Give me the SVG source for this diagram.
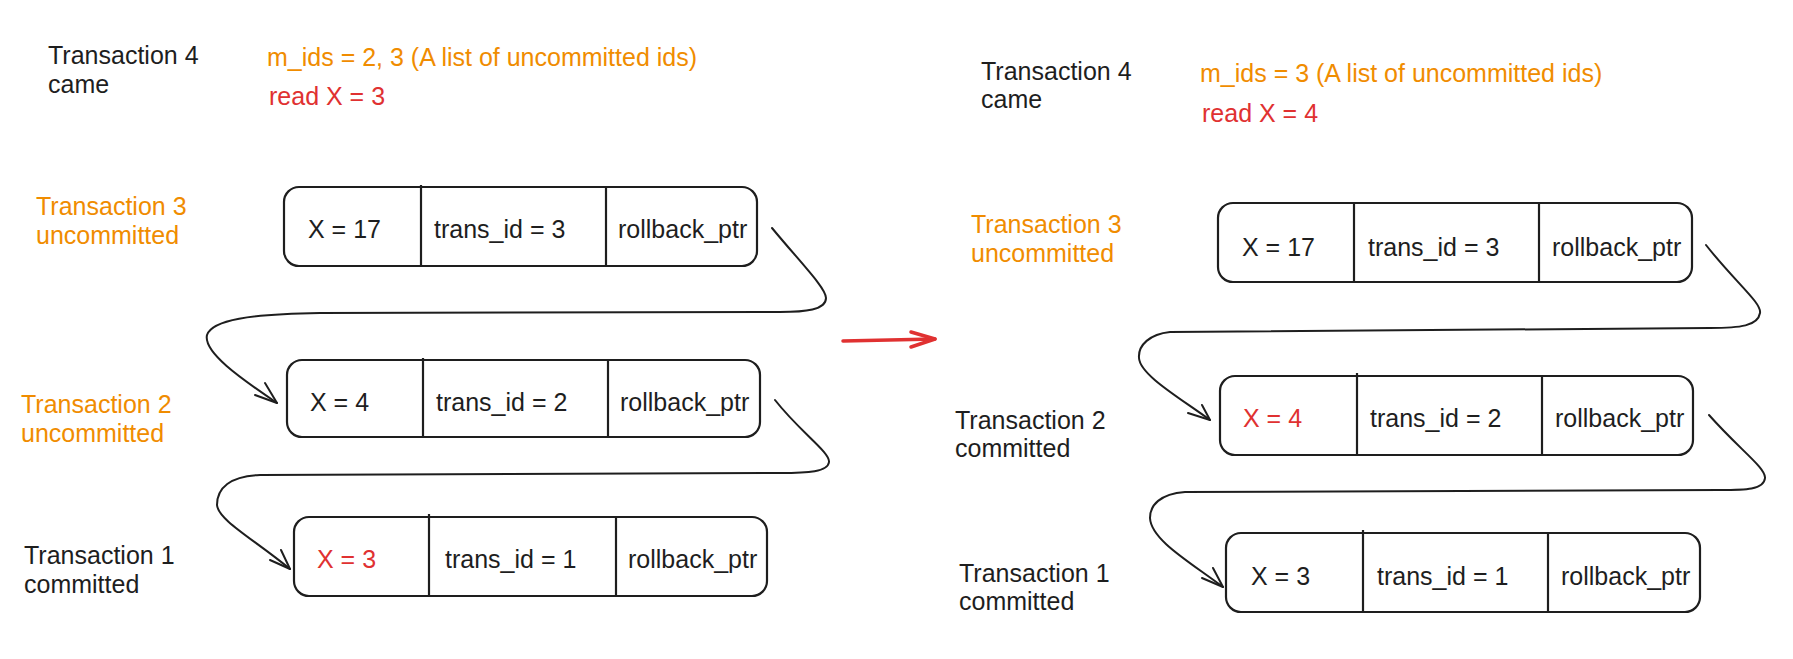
<svg xmlns="http://www.w3.org/2000/svg" width="1793" height="659" viewBox="0 0 1793 659">
<style>
text{font-family:"Liberation Sans",Arial,sans-serif;font-size:25px;fill:#1e1e1e}
.or{fill:#f08c00}
.rd{fill:#e03131}
.box{fill:none;stroke:#1e1e1e;stroke-width:2.2}
.div{stroke:#1e1e1e;stroke-width:2.2}
.con{fill:none;stroke:#1e1e1e;stroke-width:2;stroke-linecap:round;stroke-linejoin:round}
.red{fill:none;stroke:#e03131;stroke-width:3.5;stroke-linecap:round;stroke-linejoin:round}
</style>
<rect width="1793" height="659" fill="#ffffff"/>

<g id="left-labels">
<text x="48" y="64">Transaction 4</text>
<text x="48" y="93">came</text>
<text class="or" x="267" y="66">m_ids = 2, 3 (A list of uncommitted ids)</text>
<text class="rd" x="269" y="105">read X = 3</text>
<text class="or" x="36" y="215">Transaction 3</text>
<text class="or" x="36" y="244">uncommitted</text>
<text class="or" x="21" y="413">Transaction 2</text>
<text class="or" x="21" y="442">uncommitted</text>
<text x="24" y="564">Transaction 1</text>
<text x="24" y="593">committed</text>
</g>

<g id="L-node3">
<rect class="box" x="284" y="187" width="473" height="79" rx="15"/>
<line class="div" x1="421" y1="185" x2="421" y2="266"/>
<line class="div" x1="606" y1="187" x2="606" y2="266"/>
<text x="308" y="238">X = 17</text>
<text x="434" y="238">trans_id = 3</text>
<text x="618" y="238">rollback_ptr</text>
</g>
<g id="L-node2">
<rect class="box" x="287" y="360" width="473" height="77" rx="15"/>
<line class="div" x1="423" y1="358" x2="423" y2="437"/>
<line class="div" x1="608" y1="360" x2="608" y2="437"/>
<text x="310" y="411">X = 4</text>
<text x="436" y="411">trans_id = 2</text>
<text x="620" y="411">rollback_ptr</text>
</g>
<g id="L-node1">
<rect class="box" x="294" y="517" width="473" height="79" rx="15"/>
<line class="div" x1="429" y1="514" x2="429" y2="596"/>
<line class="div" x1="616" y1="517" x2="616" y2="596"/>
<text class="rd" x="317" y="568">X = 3</text>
<text x="445" y="568">trans_id = 1</text>
<text x="628" y="568">rollback_ptr</text>
</g>

<g id="right-labels">
<text x="981" y="80">Transaction 4</text>
<text x="981" y="108">came</text>
<text class="or" x="1200" y="82">m_ids = 3 (A list of uncommitted ids)</text>
<text class="rd" x="1202" y="122">read X = 4</text>
<text class="or" x="971" y="233">Transaction 3</text>
<text class="or" x="971" y="262">uncommitted</text>
<text x="955" y="429">Transaction 2</text>
<text x="955" y="457">committed</text>
<text x="959" y="582">Transaction 1</text>
<text x="959" y="610">committed</text>
</g>

<g id="R-node3">
<rect class="box" x="1218" y="203" width="474" height="79" rx="15"/>
<line class="div" x1="1354" y1="203" x2="1354" y2="282"/>
<line class="div" x1="1539" y1="203" x2="1539" y2="283"/>
<text x="1242" y="256">X = 17</text>
<text x="1368" y="256">trans_id = 3</text>
<text x="1552" y="256">rollback_ptr</text>
</g>
<g id="R-node2">
<rect class="box" x="1220" y="376" width="473" height="79" rx="15"/>
<line class="div" x1="1357" y1="373" x2="1357" y2="455"/>
<line class="div" x1="1542" y1="376" x2="1542" y2="455"/>
<text class="rd" x="1243" y="427">X = 4</text>
<text x="1370" y="427">trans_id = 2</text>
<text x="1555" y="427">rollback_ptr</text>
</g>
<g id="R-node1">
<rect class="box" x="1226" y="533" width="474" height="79" rx="15"/>
<line class="div" x1="1363" y1="530" x2="1363" y2="612"/>
<line class="div" x1="1548" y1="532" x2="1548" y2="612"/>
<text x="1251" y="585">X = 3</text>
<text x="1377" y="585">trans_id = 1</text>
<text x="1561" y="585">rollback_ptr</text>
</g>

<g id="connectors">
<path class="con" d="M 772 228 C 800 262, 826 288, 826 298 C 826 310, 805 312, 780 312 L 320 313 C 250 314, 212 320, 207 335 C 203 352, 240 378, 277 403"/>
<path class="con" d="M 265 383 L 277 403 L 255 395"/>
<path class="con" d="M 775 400 C 800 432, 830 452, 829 462 C 828 472, 808 473, 780 473 L 260 475 C 230 476, 217 488, 217 505 C 218 520, 255 540, 290 569"/>
<path class="con" d="M 281 550 L 290 569 L 270 560"/>
<path class="con" d="M 1706 245 C 1735 282, 1762 303, 1760 313 C 1758 326, 1740 328, 1710 328 L 1170 332 C 1150 334, 1138 345, 1139 358 C 1140 375, 1180 398, 1210 420"/>
<path class="con" d="M 1202 405 L 1210 420 L 1188 413"/>
<path class="con" d="M 1709 415 C 1740 450, 1766 468, 1765 478 C 1764 490, 1745 490, 1720 490 L 1185 492 C 1160 494, 1150 505, 1150 518 C 1151 540, 1190 562, 1223 587"/>
<path class="con" d="M 1213 568 L 1223 587 L 1202 578"/>
<path class="red" d="M 843 341 L 935 339"/>
<path class="red" d="M 911 332 L 935 339 L 911 347"/>
</g>
</svg>
